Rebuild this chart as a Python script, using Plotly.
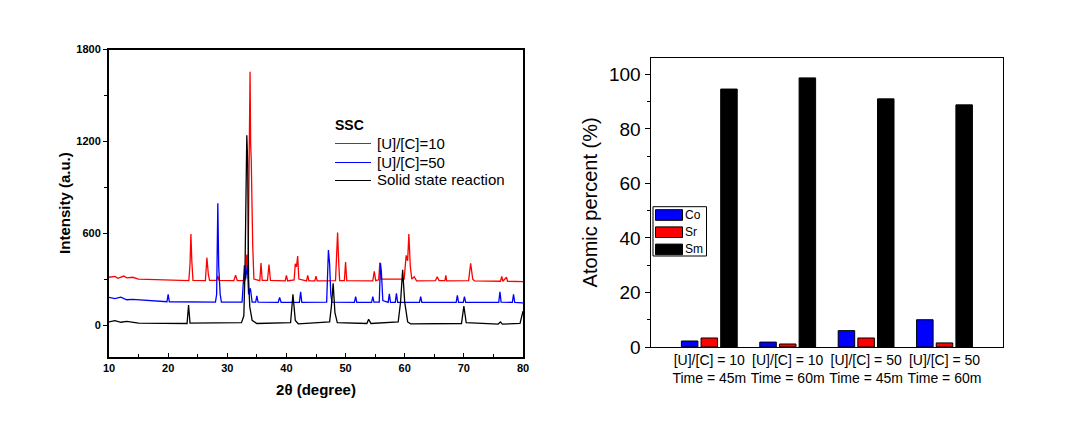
import plotly.graph_objects as go

# ---------------- XRD data (2theta, intensity) ----------------
red_x = [10.0, 11.0, 11.5, 12.5, 13.0, 14.0, 15.0, 18.0, 21.0, 23.5, 23.7, 23.85, 24.0, 24.2,
         26.3, 26.55, 26.8, 27.0, 28.2, 28.4, 28.6, 31.1, 31.4, 31.7, 33.0, 33.3, 33.5, 33.7,
         33.85, 33.95, 34.05, 34.3, 34.5, 35.5, 35.7, 35.9, 36.8, 37.05, 37.3, 39.8, 40.0, 40.2,
         41.3, 41.5, 41.7, 41.9, 42.1, 43.4, 43.6, 43.8, 44.8, 45.0, 45.2, 48.3, 48.5, 48.65,
         48.85, 49.0, 49.8, 50.0, 50.2, 54.6, 54.85, 55.1, 55.6, 55.8, 56.0, 59.9, 60.25, 60.5,
         60.7, 60.95, 61.2, 61.6, 62.0, 65.2, 65.5, 65.8, 66.8, 66.95, 67.1, 70.8, 71.15, 71.5,
         71.8, 76.2, 76.4, 76.6, 77.2, 77.4, 80.0]
red_y = [312, 318, 305, 320, 308, 312, 300, 296, 292, 290, 400, 595, 420, 292,
         290, 440, 330, 292, 292, 320, 292, 290, 325, 290, 292, 460, 330, 1100,
         1655, 1180, 1080, 520, 300, 290, 405, 292, 292, 395, 292, 288, 325, 288,
         295, 400, 380, 450, 300, 288, 325, 288, 288, 320, 288, 290, 560, 605,
         400, 290, 290, 412, 290, 288, 350, 290, 295, 408, 300, 300, 455, 420,
         595, 380, 300, 315, 288, 290, 315, 290, 290, 325, 288, 290, 403, 300,
         288, 286, 318, 286, 312, 286, 283]

blue_x = [10.0, 11.0, 12.0, 13.0, 14.0, 17.0, 19.8, 20.0, 20.2, 28.0, 28.2, 28.4, 28.55, 28.8,
          29.0, 32.5, 32.9, 33.1, 33.4, 33.6, 33.9, 34.2, 34.8, 35.0, 35.2, 38.6, 38.85, 39.1,
          42.2, 42.4, 42.6, 46.8, 47.1, 47.3, 47.5, 47.7, 51.5, 51.7, 51.9, 54.4, 54.6, 54.8,
          55.7, 55.9, 56.05, 56.3, 57.2, 57.4, 57.6, 58.4, 58.6, 58.8, 62.5, 62.7, 62.9, 68.7,
          68.9, 69.1, 69.9, 70.1, 70.3, 75.9, 76.1, 76.3, 78.2, 78.4, 78.6, 80.0]
blue_y = [180, 172, 182, 165, 168, 158, 152, 200, 152, 150, 200, 795, 380, 200,
          150, 150, 390, 300, 390, 200, 240, 150, 150, 190, 150, 148, 180, 148,
          148, 217, 148, 150, 490, 400, 200, 150, 148, 186, 148, 148, 186, 150,
          150, 405, 350, 160, 148, 203, 148, 148, 207, 148, 148, 186, 148, 148,
          193, 148, 148, 186, 148, 148, 217, 150, 148, 200, 148, 145]

black_x = [10.0, 11.0, 12.0, 13.0, 15.0, 18.0, 23.2, 23.45, 23.7, 32.4, 32.8, 33.0, 33.15, 33.3,
           33.45, 33.6, 33.8, 34.2, 35.0, 40.7, 41.1, 41.5, 42.0, 47.3, 47.6, 47.9, 48.2, 48.6,
           53.6, 53.9, 54.3, 58.9, 59.3, 59.65, 60.0, 60.5, 61.0, 69.6, 70.0, 70.4, 75.8, 76.2,
           76.5, 79.5, 80.0]
black_y = [20, 28, 18, 24, 12, 10, 10, 130, 12, 15, 60, 370, 700, 1240,
           1060, 300, 120, 30, 10, 15, 200, 30, 8, 20, 120, 272, 80, 15,
           10, 37, 10, 20, 150, 360, 150, 20, 8, 10, 124, 15, 6, 20,
           6, 10, 90]

xrd_names = ["[U]/[C]=10", "[U]/[C]=50", "Solid state reaction"]
xrd_colors = ["#ff0000", "#0000ff", "#000000"]

# ---------------- EDS data ----------------
groups = ["[U]/[C] = 10<br>Time = 45m", "[U]/[C] = 10<br>Time = 60m",
          "[U]/[C] = 50<br>Time = 45m", "[U]/[C] = 50<br>Time = 60m"]
group_pos = [1, 2, 3, 4]
co_vals = [2.2, 1.8, 6.0, 10.0]
sr_vals = [3.3, 1.1, 3.3, 1.5]
sm_vals = [94.6, 98.7, 91.0, 88.8]
bar_names = ["Co", "Sr", "Sm"]
bar_colors = ["#0000ff", "#ff0000", "#000000"]

FONT = "Liberation Sans, Arial, sans-serif"
W, H = 1075, 428


def px(x):
    return x / W


def py(y):
    return 1 - y / H


fig = go.Figure()

for xs, ys, nm, col in zip([red_x, blue_x, black_x], [red_y, blue_y, black_y], xrd_names, xrd_colors):
    fig.add_trace(go.Scatter(x=xs, y=ys, mode="lines", name=nm, showlegend=False,
                             line=dict(color=col, width=1.3), xaxis="x", yaxis="y"))

for vals, nm, col in zip([co_vals, sr_vals, sm_vals], bar_names, bar_colors):
    fig.add_trace(go.Bar(x=group_pos, y=vals, name=nm, showlegend=False,
                         marker=dict(color=col, line=dict(color="black", width=1)),
                         xaxis="x2", yaxis="y2"))

shapes = []
annotations = []

# Left legend (drawn): title + line samples
annotations.append(dict(text="<b>SSC</b>", x=px(333), y=py(125), xref="paper", yref="paper",
                        xanchor="left", yanchor="middle", showarrow=False,
                        font=dict(size=14, family=FONT)))
legend_rows = [143, 162, 180]
for yy, nm, col in zip(legend_rows, xrd_names, xrd_colors):
    shapes.append(dict(type="line", xref="paper", yref="paper",
                       x0=px(335), x1=px(371), y0=py(yy + 0.5), y1=py(yy + 0.5),
                       line=dict(color=col, width=1)))
    annotations.append(dict(text=nm, x=px(375), y=py(yy), xref="paper", yref="paper",
                            xanchor="left", yanchor="middle", showarrow=False,
                            font=dict(size=15, family=FONT)))

# Right legend (drawn): box + swatches
shapes.append(dict(type="rect", xref="paper", yref="paper",
                   x0=px(653), x1=px(706.5), y0=py(256), y1=py(206.7),
                   line=dict(color="black", width=1), fillcolor="white", layer="above"))
for i, (nm, col) in enumerate(zip(bar_names, bar_colors)):
    yc = 215 + i * 17.2
    shapes.append(dict(type="rect", xref="paper", yref="paper",
                       x0=px(655.5), x1=px(682.5), y0=py(yc + 5.3), y1=py(yc - 5.3),
                       line=dict(color="black", width=1), fillcolor=col, layer="above"))
    annotations.append(dict(text=nm, x=px(684), y=py(yc), xref="paper", yref="paper",
                            xanchor="left", yanchor="middle", showarrow=False, borderpad=0,
                            font=dict(size=12, family=FONT)))

fig.update_layout(
    width=W, height=H,
    margin=dict(l=0, r=0, t=0, b=0),
    paper_bgcolor="white", plot_bgcolor="white",
    font=dict(family=FONT, color="black"),
    barmode="group", bargap=0.248, bargroupgap=0.16,
    xaxis=dict(domain=[px(109), px(523)], range=[10, 80], anchor="y", automargin=False,
               tickvals=[10, 20, 30, 40, 50, 60, 70, 80],
               ticks="inside", ticklen=4, tickwidth=1, tickcolor="black",
               minor=dict(dtick=5, ticks="inside", ticklen=3, tickcolor="black"),
               showline=True, linecolor="black", linewidth=2, mirror=True,
               showgrid=False, zeroline=False,
               tickfont=dict(size=11, family=FONT, weight="bold"),
               title=dict(text="<b>2θ (degree)</b>", font=dict(size=15), standoff=12)),
    yaxis=dict(domain=[py(356.7), py(49.5)], range=[-207, 1800], anchor="x", automargin=False,
               tickvals=[0, 600, 1200, 1800],
               ticks="outside", ticklen=4, tickwidth=1, tickcolor="black",
               minor=dict(tickvals=[300, 900, 1500], ticks="outside", ticklen=3, tickcolor="black"),
               showline=True, linecolor="black", linewidth=2, mirror=True,
               showgrid=False, zeroline=False,
               tickfont=dict(size=11, family=FONT, weight="bold"),
               title=dict(text="<b>Intensity (a.u.)</b>", font=dict(size=15), standoff=2)),
    xaxis2=dict(domain=[px(650.5), px(1003.3)], range=[0.25, 4.75], anchor="y2", automargin=False,
                tickvals=group_pos, ticktext=groups, ticks="", tickangle=0,
                showline=True, linecolor="black", linewidth=1, mirror=True,
                showgrid=False, zeroline=False,
                tickfont=dict(size=14, family=FONT)),
    yaxis2=dict(domain=[py(347), py(57.7)], range=[0, 106.1], anchor="x2", automargin=False,
                tickvals=[0, 20, 40, 60, 80, 100],
                ticks="outside", ticklen=5, tickwidth=1, tickcolor="black",
                minor=dict(tickvals=[10, 30, 50, 70, 90], ticks="outside", ticklen=3, tickcolor="black"),
                showline=True, linecolor="black", linewidth=1, mirror=True,
                showgrid=False, zeroline=False,
                tickfont=dict(size=19, family=FONT),
                title=dict(text="Atomic percent (%)", font=dict(size=20), standoff=5)),
    shapes=shapes,
    annotations=annotations,
    showlegend=False,
)

fig.write_html("out.html", config={"displayModeBar": False},
               post_script="document.body.style.margin='0px';")
